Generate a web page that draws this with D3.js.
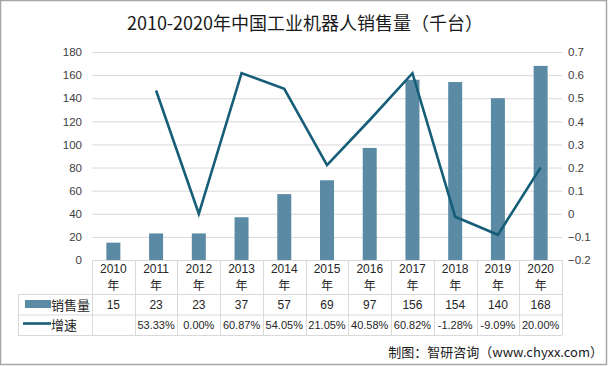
<!DOCTYPE html>
<html><head><meta charset="utf-8">
<script src="https://cdn.jsdelivr.net/npm/d3@7"></script>
<style>
html,body{margin:0;padding:0;background:#fff;}
svg{display:block;}
text{font-family:"Noto Sans CJK SC","Noto Sans",sans-serif;}
</style></head><body>
<svg id="c" width="608" height="366"></svg>
<script>
const years = ["2010","2011","2012","2013","2014","2015","2016","2017","2018","2019","2020"];
const sales = [15,23,23,37,57,69,97,156,154,140,168];
const growth = [null,0.5333,0.0,0.6087,0.5405,0.2105,0.4058,0.6082,-0.0128,-0.0909,0.2000];
const growthLabels = ["","53.33%","0.00%","60.87%","54.05%","21.05%","40.58%","60.82%","-1.28%","-9.09%","20.00%"];
const leftTicks = [0,20,40,60,80,100,120,140,160,180];
const rightTicks = [-0.2,-0.1,0,0.1,0.2,0.3,0.4,0.5,0.6,0.7];
const seriesNames = ["销售量","增速"];
const title = "2010-2020年中国工业机器人销售量（千台）";
const source = "制图：智研咨询（www.chyxx.com）";

const barColor = "#5b8ba4", lineColor = "#165e78", gridColor = "#d9d9d9", textColor = "#404040";
const svg = d3.select("#c");
const W = 608, H = 366;
const L = 92, R = 562, T = 52, B = 260;

svg.append("rect").attr("x",0.5).attr("y",0.5).attr("width",W-2).attr("height",H-2)
  .attr("fill","#fff").attr("stroke","#a6a6a6").attr("stroke-width",1.5);

const x = d3.scaleBand().domain(years).range([L,R]).padding(0);
const yL = d3.scaleLinear().domain([0,180]).range([B,T]);
const yR = d3.scaleLinear().domain([-0.2,0.7]).range([B,T]);

svg.append("g").selectAll("line").data(leftTicks).join("line")
  .attr("x1",L).attr("x2",R).attr("y1",d=>yL(d)+0.5).attr("y2",d=>yL(d)+0.5)
  .attr("stroke",gridColor).attr("stroke-width",1);

const numFont = "Liberation Sans, Noto Sans, sans-serif";
const axL = svg.append("g").attr("transform",`translate(${L-10},0)`)
  .call(d3.axisLeft(yL).tickValues(leftTicks).tickSize(0).tickPadding(0));
axL.select(".domain").remove();
axL.selectAll("text").attr("fill",textColor).style("font-size","11.5px").style("font-family",numFont);

const axR = svg.append("g").attr("transform",`translate(${R+6},0)`)
  .call(d3.axisRight(yR).tickValues(rightTicks).tickSize(0).tickPadding(0).tickFormat(d=>d3.format("")(+d.toFixed(1))));
axR.select(".domain").remove();
axR.selectAll("text").attr("fill",textColor).style("font-size","11.5px").style("font-family",numFont);

const bw = 14;
svg.append("g").selectAll("rect").data(years).join("rect")
  .attr("x",(d)=>x(d)+x.bandwidth()/2-bw/2)
  .attr("width",bw)
  .attr("y",(d,i)=>yL(sales[i]))
  .attr("height",(d,i)=>yL(0)-yL(sales[i]))
  .attr("fill",barColor);

const pts = years.map((y,i)=>[y,growth[i]]).filter(d=>d[1]!==null);
svg.append("path").datum(pts)
  .attr("d",d3.line().x(d=>x(d[0])+x.bandwidth()/2).y(d=>yR(d[1])))
  .attr("fill","none").attr("stroke",lineColor).attr("stroke-width",2.6).attr("stroke-linejoin","miter");

const tg = svg.append("g");
const r0 = B, r1 = 294, r2 = 314.5, r3 = 335;
const TL = 18;
const tl = (x1,y1,x2,y2)=>tg.append("line").attr("x1",x1).attr("y1",y1).attr("x2",x2).attr("y2",y2)
  .attr("stroke",gridColor).attr("stroke-width",1);
[...years.map(d=>x(d)), R].forEach(v=>tl(Math.round(v)+0.5,r0,Math.round(v)+0.5,r3));
tl(TL+0.5,r1,TL+0.5,r3);
tl(TL,r1+0.5,R,r1+0.5);
tl(TL,r2+0.5,R,r2+0.5);
tl(TL,r3+0.5,R,r3+0.5);

const tstyle = s=>s.attr("fill","#262626").style("font-size","12px").attr("text-anchor","middle");
tg.append("g").selectAll("text").data(years).join("text")
  .attr("x",d=>x(d)+x.bandwidth()/2).attr("y",273)
  .text(d=>d).call(tstyle).style("font-family",numFont);
tg.append("g").selectAll("text").data(years).join("text")
  .attr("x",d=>x(d)+x.bandwidth()/2).attr("y",290)
  .text("年").call(tstyle);
tg.append("g").selectAll("text").data(sales).join("text")
  .attr("x",(d,i)=>x(years[i])+x.bandwidth()/2).attr("y",308.5)
  .text(d=>d).call(tstyle).style("font-family",numFont);
tg.append("g").selectAll("text").data(growthLabels).join("text")
  .attr("x",(d,i)=>x(years[i])+x.bandwidth()/2).attr("y",329)
  .text(d=>d).call(tstyle).style("font-family",numFont).style("font-size","11px");

tg.append("rect").attr("x",25).attr("y",300).attr("width",26).attr("height",8).attr("fill",barColor);
tg.append("line").attr("x1",23).attr("x2",51).attr("y1",323.5).attr("y2",323.5).attr("stroke",lineColor).attr("stroke-width",2.6);
tg.append("text").attr("x",51).attr("y",309.5).text(seriesNames[0]).attr("fill","#262626").style("font-size","13px");
tg.append("text").attr("x",51).attr("y",330).text(seriesNames[1]).attr("fill","#262626").style("font-size","13px");

svg.append("text").attr("x",305).attr("y",30).attr("text-anchor","middle")
  .attr("fill","#1a1a1a").style("font-size","18px").text(title);

svg.append("text").attr("x",603).attr("y",357).attr("text-anchor","end")
  .attr("fill","#1a1a1a").style("font-size","13px").text(source);
</script>
</body></html>
